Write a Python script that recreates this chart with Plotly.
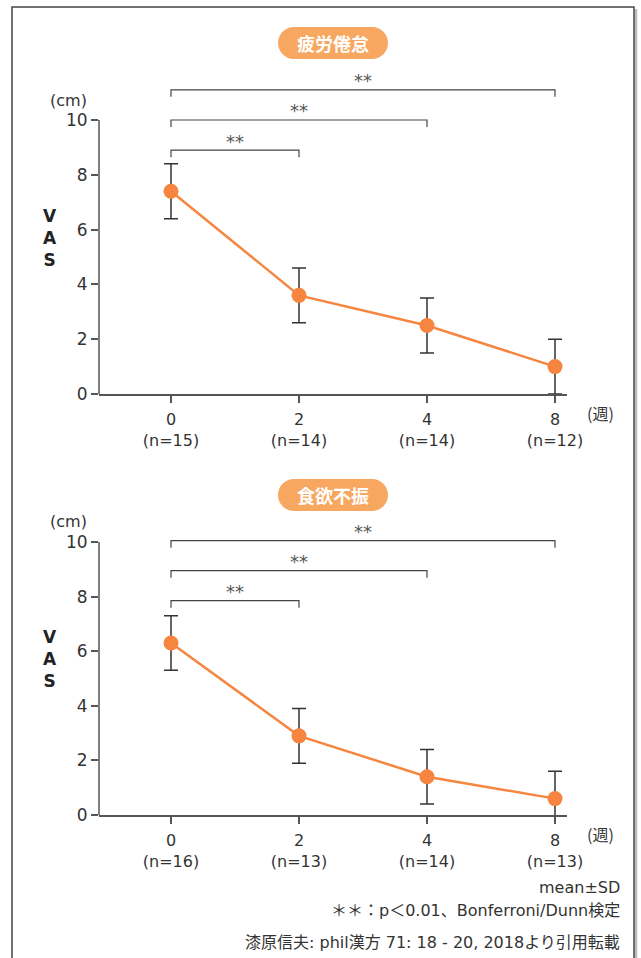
import plotly.graph_objects as go

# ---------------- data ----------------
weeks = ["0", "2", "4", "8"]
fatigue_n = [15, 14, 14, 12]
fatigue_mean = [7.4, 3.6, 2.5, 1.0]
fatigue_sd = [1.0, 1.0, 1.0, 1.0]
appetite_n = [16, 13, 14, 13]
appetite_mean = [6.3, 2.9, 1.4, 0.6]
appetite_sd = [1.0, 1.0, 1.0, 1.0]
panel_titles = ["疲労倦怠", "食欲不振"]
sig_pairs = [(0, 1), (0, 2), (0, 3)]
sig_label = "**"

# ---------------- layout constants ----------------
W, H = 641, 958
FONT = "DejaVu Sans, Noto Sans CJK JP, sans-serif"
JFONT = "Noto Sans CJK JP, sans-serif"
LINE_C = "#F5853F"
PILL_C = "#F8A760"
AX_C = "#555555"
TXT_C = "#333333"


def pxx(p):
    return p / W


def pxy(p):
    return 1 - p / H


x_left, x_right = 99, 567
x0_px, dx_px = 171, 128
xrange_ = [(x_left - x0_px) / dx_px, 3 + (x_right - (x0_px + 3 * dx_px)) / dx_px]

panels = [
    dict(mean=fatigue_mean, sd=fatigue_sd, n=fatigue_n, title=panel_titles[0],
         y0=394, y10=120, ytop=60, pill_cy=43, levels=[8.9, 10.0, 11.1],
         week_y=413, cm_y=100, vas_y=238),
    dict(mean=appetite_mean, sd=appetite_sd, n=appetite_n, title=panel_titles[1],
         y0=815, y10=542, ytop=505, pill_cy=495, levels=[7.85, 8.95, 10.05],
         week_y=834, cm_y=521, vas_y=659),
]

fig = go.Figure()
shapes = []
annotations = []

for i, p in enumerate(panels):
    sfx = "" if i == 0 else str(i + 1)
    xa, ya = "x" + sfx, "y" + sfx
    ppu = (p["y0"] - p["y10"]) / 10.0
    ymax = (p["y0"] - p["ytop"]) / ppu
    fig.add_trace(go.Scatter(
        x=list(range(len(weeks))), y=p["mean"], xaxis=xa, yaxis=ya,
        mode="lines+markers",
        line=dict(color=LINE_C, width=2.5),
        marker=dict(color=LINE_C, size=15),
        error_y=dict(type="data", array=p["sd"], visible=True,
                     color="#333333", thickness=1.5, width=7),
        showlegend=False, hoverinfo="skip",
    ))
    ticktext = [f"{w}<br>(n={nn})" for w, nn in zip(weeks, p["n"])]
    fig.layout["xaxis" + sfx] = dict(
        domain=[pxx(x_left), pxx(x_right)], range=xrange_, anchor=ya,
        tickvals=list(range(len(weeks))), ticktext=ticktext, automargin=False,
        showline=True, linecolor=AX_C, linewidth=1.5,
        ticks="outside", ticklen=7, tickcolor=AX_C, tickwidth=1.5,
        ticklabelstandoff=3,
        showgrid=False, zeroline=False,
        tickfont=dict(family=FONT, size=16, color=TXT_C), fixedrange=True,
    )
    fig.layout["yaxis" + sfx] = dict(
        domain=[pxy(p["y0"]), pxy(p["ytop"])], range=[0, ymax], anchor=xa,
        tickvals=[0, 2, 4, 6, 8, 10], showline=False, automargin=False,
        ticks="outside", ticklen=7, tickcolor=AX_C, tickwidth=1.5,
        showgrid=False, zeroline=False,
        tickfont=dict(family=FONT, size=17, color=TXT_C), fixedrange=True,
    )
    # y axis line from 0 to 10
    shapes.append(dict(type="line", xref="paper", yref="paper",
                       x0=pxx(x_left), x1=pxx(x_left), y0=pxy(p["y0"]), y1=pxy(p["y10"]),
                       line=dict(color=AX_C, width=1.5)))
    # significance brackets
    drop = 7 / ppu
    for (a, b), lev in zip(sig_pairs, p["levels"]):
        shapes.append(dict(type="path", xref=xa, yref=ya,
                           path=f"M {a},{lev - drop} L {a},{lev} L {b},{lev} L {b},{lev - drop}",
                           line=dict(color="#444444", width=1.2)))
        annotations.append(dict(x=(a + b) / 2, y=lev, xref=xa, yref=ya, text=sig_label,
                                showarrow=False, xanchor="center", yanchor="middle", yshift=9,
                                font=dict(family=FONT, size=18, color="#555555")))
    # (週)
    annotations.append(dict(x=pxx(600), y=pxy(p["week_y"]), xref="paper", yref="paper",
                            text="(週)", showarrow=False, xanchor="center", yanchor="middle",
                            font=dict(family=JFONT, size=16, color=TXT_C)))
    # (cm)
    annotations.append(dict(x=pxx(89), y=pxy(p["cm_y"]), xref="paper", yref="paper",
                            text="(cm)", showarrow=False, xanchor="right", yanchor="middle",
                            font=dict(family=FONT, size=16, color=TXT_C)))
    # VAS stacked
    annotations.append(dict(x=pxx(50), y=pxy(p["vas_y"]), xref="paper", yref="paper",
                            text="<b>V<br>A<br>S</b>", showarrow=False,
                            xanchor="center", yanchor="middle",
                            font=dict(family=FONT, size=17, color="#222222")))
    # pill title
    cx, cy, w, h = 333, p["pill_cy"], 110, 32
    r = h / 2
    k = 0.5523 * r
    x1, x2 = cx - w / 2 + r, cx + w / 2 - r
    top, bot = cy - r, cy + r

    def P(xp, yp):
        return f"{pxx(xp)},{pxy(yp)}"

    path = (f"M {P(x1, top)} L {P(x2, top)} "
            f"C {P(x2 + k, top)} {P(x2 + r, cy - k)} {P(x2 + r, cy)} "
            f"C {P(x2 + r, cy + k)} {P(x2 + k, bot)} {P(x2, bot)} "
            f"L {P(x1, bot)} "
            f"C {P(x1 - k, bot)} {P(x1 - r, cy + k)} {P(x1 - r, cy)} "
            f"C {P(x1 - r, cy - k)} {P(x1 - k, top)} {P(x1, top)} Z")
    shapes.append(dict(type="path", xref="paper", yref="paper", path=path,
                       fillcolor=PILL_C, line=dict(width=0), layer="below"))
    annotations.append(dict(x=pxx(cx), y=pxy(cy), xref="paper", yref="paper",
                            text=f"<b>{p['title']}</b>", showarrow=False,
                            xanchor="center", yanchor="middle",
                            font=dict(family=JFONT, size=18, color="white")))

# frame
shapes.append(dict(type="line", xref="paper", yref="paper",
                   x0=pxx(636), x1=pxx(636), y0=pxy(9), y1=pxy(1000),
                   line=dict(color="#BBBBBB", width=2.5)))
shapes.append(dict(type="rect", xref="paper", yref="paper",
                   x0=pxx(12), x1=pxx(634), y0=pxy(1005), y1=pxy(7),
                   line=dict(color="#444444", width=1.5)))

# notes
notes = [("mean±SD", 887), ("＊＊：p＜0.01、Bonferroni/Dunn検定", 910),
         ("漆原信夫: phil漢方 71: 18 - 20, 2018より引用転載", 942)]
for txt, yy in notes:
    annotations.append(dict(x=pxx(622), y=pxy(yy), xref="paper", yref="paper",
                            text=txt, showarrow=False, xanchor="right", yanchor="middle",
                            font=dict(family=FONT, size=16, color=TXT_C)))

fig.update_layout(
    width=W, height=H, margin=dict(l=0, r=0, t=0, b=0, autoexpand=False),
    paper_bgcolor="white", plot_bgcolor="white",
    shapes=shapes, annotations=annotations, showlegend=False,
)
fig.write_html("out.html", config={"displayModeBar": False},
               post_script="document.body.style.margin='0';document.body.style.overflow='hidden';")
